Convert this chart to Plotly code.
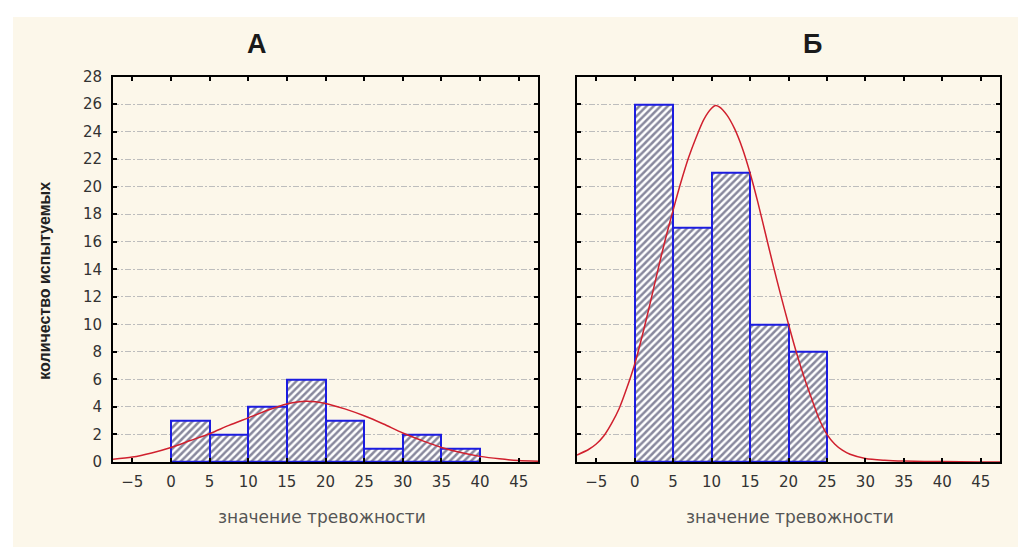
import plotly.graph_objects as go

# ---- data ----
bin_edges = [0, 5, 10, 15, 20, 25, 30, 35, 40]
bin_width = 5
counts_a = [3, 2, 4, 6, 3, 1, 2, 1]
counts_b = [26, 17, 21, 10, 8]

# fitted normal curves
curve_a_x = [-7.5, -5, -2.5, 0, 2.5, 5, 7.5, 10, 12.5, 15, 17.5, 20, 22.5, 25, 27.5, 30, 32.5, 35, 37.5, 40, 42.5, 45, 47.5]
curve_a_y = [0.2, 0.35, 0.65, 1.05, 1.55, 2.05, 2.65, 3.2, 3.75, 4.2, 4.4, 4.25, 3.85, 3.35, 2.75, 2.1, 1.55, 1.05, 0.68, 0.4, 0.22, 0.1, 0.05]
curve_b_x = [-7.5, -6, -5, -4, -3, -2, -1, 0, 1, 2, 3, 4, 5, 6, 7, 8, 9, 10, 10.5, 11, 12, 13, 14, 15,
             16, 17, 18, 19, 20, 21, 22, 23, 24, 25, 26, 27, 28, 30, 32.5, 35, 40, 45, 47.5]
curve_b_y = [0.5, 0.9, 1.3, 1.9, 2.8, 3.9, 5.4, 7.1, 9.2, 11.5, 13.9, 16.2, 18.3, 20.3, 22.1, 23.6, 24.9, 25.7, 25.9, 25.8, 25.2, 24.2, 22.8, 21.0,
             18.9, 16.6, 14.3, 12.1, 10.0, 8.0, 6.2, 4.6, 3.1, 2.0, 1.3, 0.85, 0.55, 0.25, 0.12, 0.06, 0.02, 0.0, 0.0]

x_ticks = [-5, 0, 5, 10, 15, 20, 25, 30, 35, 40, 45]
y_ticks = list(range(0, 29, 2))
titles = ["А", "Б"]
x_title = "значение тревожности"
y_title = "количество испытуемых"

W, H = 1026, 548
BG = "#fcf7ea"

# page-pixel -> paper fraction (compensates page offset of the rendering)
OX, OY, HE = 8.0, 15.1, 532.4


def px(x):
    return (x - OX) / W


def py(y):
    return 1 - (y - OY) / HE


def centers(n):
    return [bin_edges[i] + bin_width / 2 for i in range(n)]


fig = go.Figure()

for idx, (counts, cx, cy) in enumerate([(counts_a, curve_a_x, curve_a_y),
                                          (counts_b, curve_b_x, curve_b_y)]):
    xa = "x" if idx == 0 else "x2"
    ya = "y" if idx == 0 else "y2"
    fig.add_trace(go.Bar(
        x=centers(len(counts)), y=counts, width=bin_width,
        xaxis=xa, yaxis=ya,
        marker=dict(color="white",
                    line=dict(color="#1c1ce0", width=2),
                    pattern=dict(shape="/", fgcolor="#12123c", bgcolor="white",
                                 size=5, solidity=0.5)),
        showlegend=False, hoverinfo="skip"))
    fig.add_trace(go.Scatter(
        x=cx, y=cy, mode="lines", xaxis=xa, yaxis=ya,
        line=dict(color="#d0202e", width=1.5, shape="spline", smoothing=0.8),
        showlegend=False, hoverinfo="skip"))

tickfont = dict(family="DejaVu Sans", size=15, color="#333333")
ydom = [py(462), py(75)]
xdom1 = [px(113), px(538)]
xdom2 = [px(577), px(1000)]

xcommon = dict(range=[-7.5, 47.5], tickvals=x_ticks, ticks="inside", ticklen=4,
               tickwidth=2, tickcolor="black", showline=True, linewidth=2,
               linecolor="black", mirror="ticks", showgrid=False, zeroline=False,
               tickfont=tickfont, fixedrange=True, ticklabelstandoff=5)
ycommon = dict(range=[0, 28], tickvals=y_ticks, ticks="inside", ticklen=4,
               tickwidth=2, tickcolor="black", showline=True, linewidth=2,
               linecolor="black", mirror="ticks", showgrid=True,
               gridcolor="#bdbdbd", griddash="6px,2px,2px,2px", gridwidth=1,
               zeroline=False, tickfont=tickfont, fixedrange=True, ticklabelstandoff=6)

title_font = dict(family="Liberation Sans", size=27, color="#1a1a1a")
xt_font = dict(family="DejaVu Sans", size=17, color="#555555")

fig.update_layout(
    width=W, height=H,
    margin=dict(l=0, r=0, t=0, b=0),
    paper_bgcolor="white", plot_bgcolor="white",
    bargap=0,
    xaxis=dict(domain=xdom1, anchor="y", **xcommon),
    xaxis2=dict(domain=xdom2, anchor="y2", **xcommon),
    yaxis=dict(domain=ydom, anchor="x", showticklabels=True, **ycommon),
    yaxis2=dict(domain=ydom, anchor="x2", showticklabels=False, **ycommon),
    shapes=[dict(type="rect", xref="paper", yref="paper", layer="below",
                 x0=px(13), x1=1, y0=0, y1=1,
                 fillcolor=BG, line=dict(width=0))],
    annotations=[
        dict(text="<b>" + titles[0] + "</b>", xref="paper", yref="paper",
             x=px(257), y=py(42), xanchor="center", yanchor="middle",
             showarrow=False, font=title_font),
        dict(text="<b>" + titles[1] + "</b>", xref="paper", yref="paper",
             x=px(812), y=py(42), xanchor="center", yanchor="middle",
             showarrow=False, font=title_font),
        dict(text=x_title, xref="paper", yref="paper",
             x=px(322), y=py(517), xanchor="center", yanchor="middle",
             showarrow=False, font=xt_font),
        dict(text=x_title, xref="paper", yref="paper",
             x=px(790), y=py(517), xanchor="center", yanchor="middle",
             showarrow=False, font=xt_font),
        dict(text="<b>" + y_title + "</b>", xref="paper", yref="paper",
             x=px(45), y=py(280), xanchor="center", yanchor="middle",
             showarrow=False, textangle=-90,
             font=dict(family="Liberation Sans", size=16, color="#222222")),
    ],
)

fig.write_html("out.html")
